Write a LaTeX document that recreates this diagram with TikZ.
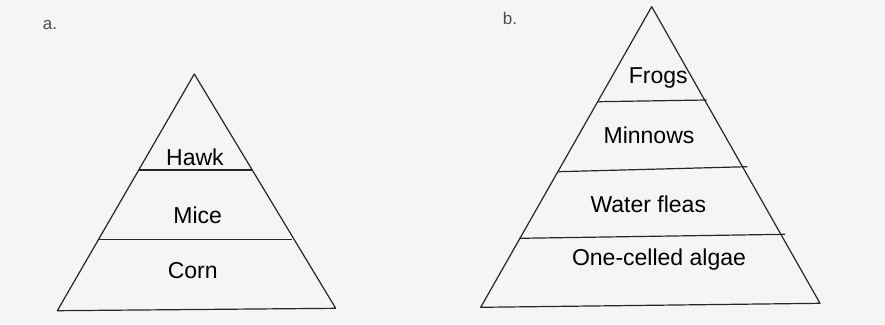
\documentclass[tikz,border=0pt]{standalone}
\usepackage{fontspec}
\setmainfont{Liberation Sans}
\begin{document}
\begin{tikzpicture}[x=1pt,y=-1pt,
  edge/.style={draw=black!85,line width=1.2pt,line join=round},
  lvl/.style={font=\fontsize{23}{25}\selectfont,text=black,inner sep=0pt},
  tag/.style={font=\fontsize{17}{19}\selectfont,text=black!70,inner sep=0pt}]
\fill[black!4] (0,0) rectangle (885,324);
\useasboundingbox (0,0) rectangle (885,324);
% pyramid a
\coordinate (aT) at (194.3,74);
\coordinate (aL) at (57.3,310.7);
\coordinate (aR) at (335.7,308.3);
\draw[edge] (aT) -- (aR) -- (aL) -- cycle;
\coordinate (a1l) at (138.7,170); \coordinate (a1r) at (251.7,170);
\coordinate (a2l) at (99.3,239.3); \coordinate (a2r) at (292.3,239.3);
\draw[edge] (a1l) -- (a1r);
\draw[edge] (a2l) -- (a2r);
\node[lvl] (hawk) at (195,157) {Hawk};
\node[lvl] (mice) at (197.7,215) {Mice};
\node[lvl] (corn) at (192.7,271) {Corn};
\node[tag] (la) at (50,25) {a.};
% pyramid b
\coordinate (bT) at (651.7,6.7);
\coordinate (bL) at (480.7,307.3);
\coordinate (bR) at (820,303.3);
\draw[edge] (bT) -- (bR) -- (bL) -- cycle;
\coordinate (b1l) at (598.3,101.7); \coordinate (b1r) at (706.7,100);
\coordinate (b2l) at (558.3,171.7); \coordinate (b2r) at (747.3,166.7);
\coordinate (b3l) at (519.3,238.3); \coordinate (b3r) at (785,234.3);
\draw[edge] (b1l) -- (b1r);
\draw[edge] (b2l) -- (b2r);
\draw[edge] (b3l) -- (b3r);
\node[lvl] (frogs) at (658.3,78.3) {Frogs};
\node[lvl] (minnows) at (649,135) {Minnows};
\node[lvl] (fleas) at (648.3,204) {Water fleas};
\node[lvl] (algae) at (659,260) {One-celled algae};
\node[tag] (lb) at (510,18) {b.};
\end{tikzpicture}
\end{document}
